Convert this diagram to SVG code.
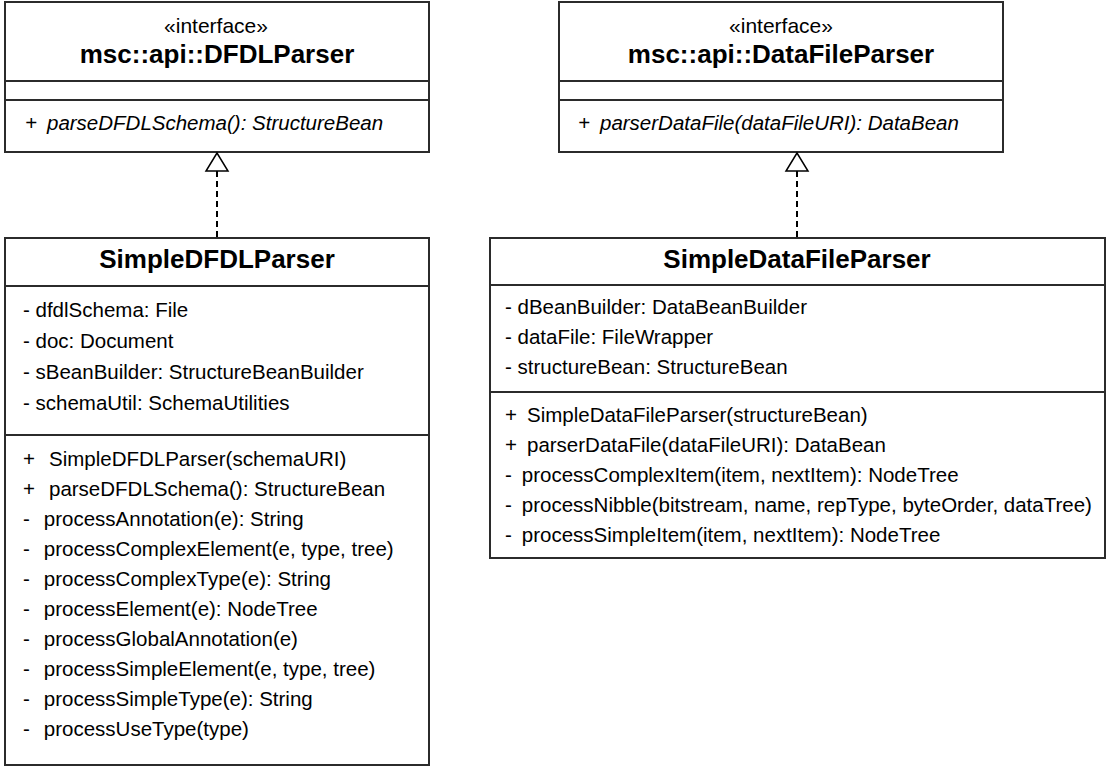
<svg xmlns="http://www.w3.org/2000/svg" width="1107" height="775" viewBox="0 0 1107 775">
  <style>
    .box { fill: #ffffff; stroke: #2b2b2b; stroke-width: 2; }
    .sep { stroke: #2b2b2b; stroke-width: 2; }
    text { font-family: "Liberation Sans", Arial, sans-serif; fill: #000000; }
    .stereo { font-size: 21px; text-anchor: middle; }
    .title { font-size: 26px; font-weight: bold; text-anchor: middle; }
    .member { font-size: 20.5px; }
    .abstract { font-size: 20.5px; font-style: italic; }
    .dash { fill: none; stroke: #000000; stroke-width: 2; stroke-dasharray: 6 4; }
    .head { fill: #ffffff; stroke: #000000; stroke-width: 1.5; }
  </style>

  <!-- interface msc::api::DFDLParser -->
  <g id="iface-dfdl">
    <rect class="box" x="5" y="2" width="424" height="150"/>
    <line class="sep" x1="5" y1="81" x2="429" y2="81"/>
    <line class="sep" x1="5" y1="100" x2="429" y2="100"/>
    <text class="stereo" x="216" y="33">«interface»</text>
    <text class="title" x="217" y="63">msc::api::DFDLParser</text>
    <text class="abstract" x="25" y="130">+<tspan dx="10">parseDFDLSchema(): StructureBean</tspan></text>
  </g>

  <!-- interface msc::api::DataFileParser -->
  <g id="iface-datafile">
    <rect class="box" x="559" y="2" width="444" height="150"/>
    <line class="sep" x1="559" y1="81" x2="1003" y2="81"/>
    <line class="sep" x1="559" y1="100" x2="1003" y2="100"/>
    <text class="stereo" x="781" y="33">«interface»</text>
    <text class="title" x="781" y="63">msc::api::DataFileParser</text>
    <text class="abstract" x="578" y="130">+<tspan dx="10">parserDataFile(dataFileURI): DataBean</tspan></text>
  </g>

  <!-- class SimpleDFDLParser -->
  <g id="class-simple-dfdl">
    <rect class="box" x="5" y="238" width="424" height="527"/>
    <line class="sep" x1="5" y1="286" x2="429" y2="286"/>
    <line class="sep" x1="5" y1="435" x2="429" y2="435"/>
    <text class="title" x="217" y="268">SimpleDFDLParser</text>
    <text class="member" x="23" y="317">- dfdlSchema: File</text>
    <text class="member" x="23" y="348">- doc: Document</text>
    <text class="member" x="23" y="379">- sBeanBuilder: StructureBeanBuilder</text>
    <text class="member" x="23" y="410">- schemaUtil: SchemaUtilities</text>
    <text class="member" x="23" y="466">+<tspan dx="14">SimpleDFDLParser(schemaURI)</tspan></text>
    <text class="member" x="23" y="496">+<tspan dx="14">parseDFDLSchema(): StructureBean</tspan></text>
    <text class="member" x="23" y="526">-<tspan dx="14">processAnnotation(e): String</tspan></text>
    <text class="member" x="23" y="556">-<tspan dx="14">processComplexElement(e, type, tree)</tspan></text>
    <text class="member" x="23" y="586">-<tspan dx="14">processComplexType(e): String</tspan></text>
    <text class="member" x="23" y="616">-<tspan dx="14">processElement(e): NodeTree</tspan></text>
    <text class="member" x="23" y="646">-<tspan dx="14">processGlobalAnnotation(e)</tspan></text>
    <text class="member" x="23" y="676">-<tspan dx="14">processSimpleElement(e, type, tree)</tspan></text>
    <text class="member" x="23" y="706">-<tspan dx="14">processSimpleType(e): String</tspan></text>
    <text class="member" x="23" y="736">-<tspan dx="14">processUseType(type)</tspan></text>
  </g>

  <!-- class SimpleDataFileParser -->
  <g id="class-simple-datafile">
    <rect class="box" x="490" y="238" width="615" height="320"/>
    <line class="sep" x1="490" y1="285" x2="1105" y2="285"/>
    <line class="sep" x1="490" y1="392" x2="1105" y2="392"/>
    <text class="title" x="797" y="268">SimpleDataFileParser</text>
    <text class="member" x="505" y="314">- dBeanBuilder: DataBeanBuilder</text>
    <text class="member" x="505" y="344">- dataFile: FileWrapper</text>
    <text class="member" x="505" y="374">- structureBean: StructureBean</text>
    <text class="member" x="505" y="422">+<tspan dx="10">SimpleDataFileParser(structureBean)</tspan></text>
    <text class="member" x="505" y="452">+<tspan dx="10">parserDataFile(dataFileURI): DataBean</tspan></text>
    <text class="member" x="505" y="482">-<tspan dx="10">processComplexItem(item, nextItem): NodeTree</tspan></text>
    <text class="member" x="505" y="512">-<tspan dx="10">processNibble(bitstream, name, repType, byteOrder, dataTree)</tspan></text>
    <text class="member" x="505" y="542">-<tspan dx="10">processSimpleItem(item, nextItem): NodeTree</tspan></text>
  </g>

  <!-- realization connectors -->
  <g id="connectors">
    <line class="dash" x1="217" y1="171" x2="217" y2="237"/>
    <polygon class="head" points="217,153 206,171 228,171"/>
    <line class="dash" x1="797" y1="171" x2="797" y2="237"/>
    <polygon class="head" points="797,153 786,171 808,171"/>
  </g>
</svg>
